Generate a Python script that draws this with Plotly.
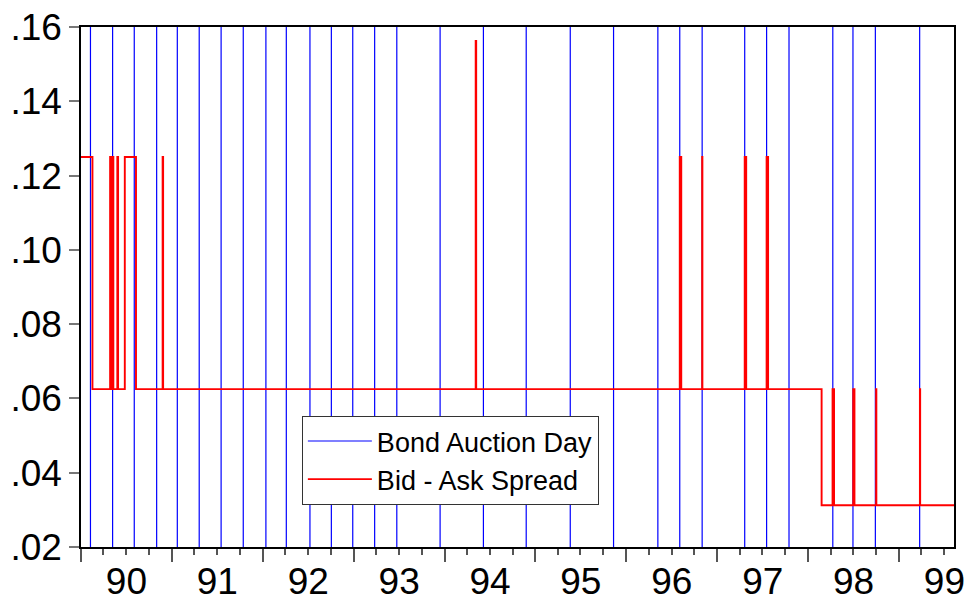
import plotly.graph_objects as go

# Bond auction days (vertical markers)
auction_days = [
    "1990-02-08", "1990-05-08", "1990-08-03", "1990-11-01",
    "1991-01-23", "1991-04-21", "1991-07-18", "1991-10-15",
    "1992-01-14", "1992-04-05", "1992-07-09", "1992-10-03", "1992-12-28",
    "1993-03-26", "1993-06-23", "1993-12-14",
    "1994-06-06", "1994-11-25",
    "1995-05-21", "1995-11-11",
    "1996-05-07", "1996-08-03", "1996-11-01",
    "1997-04-21", "1997-07-18", "1997-10-16",
    "1998-04-10", "1998-06-30", "1998-09-28",
    "1999-03-25",
]

# Bid-ask spread: dates where the quoted spread changes, and the new level
spread_dates = [
    "1990-01-01", "1990-02-16",
    "1990-04-28", "1990-05-02", "1990-05-07", "1990-05-11",
    "1990-05-27", "1990-05-30",
    "1990-06-26", "1990-08-10",
    "1990-11-25", "1990-11-27",
    "1994-05-06", "1994-05-08",
    "1996-08-03", "1996-08-09",
    "1996-11-01", "1996-11-02",
    "1997-04-21", "1997-04-27",
    "1997-07-18", "1997-07-24",
    "1998-02-24",
    "1998-04-09", "1998-04-15",
    "1998-07-01", "1998-07-06",
    "1998-10-01", "1998-10-02",
    "1999-03-26", "1999-03-27",
    "1999-08-10",
]
spread_values = [
    0.125, 0.0625,
    0.125, 0.0625, 0.125, 0.0625,
    0.125, 0.0625,
    0.125, 0.0625,
    0.125, 0.0625,
    0.15625, 0.0625,
    0.125, 0.0625,
    0.125, 0.0625,
    0.125, 0.0625,
    0.125, 0.0625,
    0.03125,
    0.0625, 0.03125,
    0.0625, 0.03125,
    0.0625, 0.03125,
    0.0625, 0.03125,
    0.03125,
]

y_ticks = [0.02, 0.04, 0.06, 0.08, 0.10, 0.12, 0.14, 0.16]
y_tick_labels = [".02", ".04", ".06", ".08", ".10", ".12", ".14", ".16"]
y_range = [0.02, 0.16]
x_range = ["1990-01-01", "1999-08-10"]

# Vertical auction-day lines spanning the full value axis
bx, by = [], []
for d in auction_days:
    bx += [d, d, None]
    by += [y_range[0], y_range[1], None]

fig = go.Figure()
fig.add_trace(go.Scatter(
    x=bx, y=by, mode="lines", name="Bond Auction Day",
    line=dict(color="#0000FF", width=1.2),
))
fig.add_trace(go.Scatter(
    x=spread_dates, y=spread_values, mode="lines", name="Bid - Ask Spread",
    line=dict(color="#FF0000", width=1.9, shape="hv"),
))

axis_font = dict(family="Liberation Sans, Arial, sans-serif", size=37, color="black")

fig.update_layout(
    width=970, height=602,
    margin=dict(l=81, r=16, t=27, b=55),
    paper_bgcolor="white", plot_bgcolor="white",
    font=axis_font,
    showlegend=True,
    legend=dict(
        x=0.253, y=0.252, xanchor="left", yanchor="top",
        bgcolor="white", bordercolor="#333333", borderwidth=1,
        font=dict(family="Liberation Sans, Arial, sans-serif", size=27, color="black"),
        tracegroupgap=0, itemwidth=64,
    ),
    xaxis=dict(
        type="date", range=x_range, automargin=False,
        tick0="1990-01-01", dtick="M12", tickformat="%y",
        ticklabelmode="period", ticklabelstandoff=-12,
        ticks="outside", ticklen=13, tickwidth=1.5, tickcolor="#555555",
        minor=dict(dtick="M3", ticks="outside", ticklen=6, tickwidth=1.5, tickcolor="#555555"),
        showgrid=False, zeroline=False,
        showline=True, mirror=True, linecolor="black", linewidth=1.5,
        tickfont=axis_font,
    ),
    yaxis=dict(
        range=y_range, tickvals=y_ticks, ticktext=y_tick_labels, automargin=False,
        ticks="outside", ticklen=10, tickwidth=1.5, tickcolor="#777777",
        showgrid=False, zeroline=False,
        showline=True, mirror=True, linecolor="black", linewidth=1.5,
        tickfont=axis_font,
    ),
)

fig.write_html("out.html")
